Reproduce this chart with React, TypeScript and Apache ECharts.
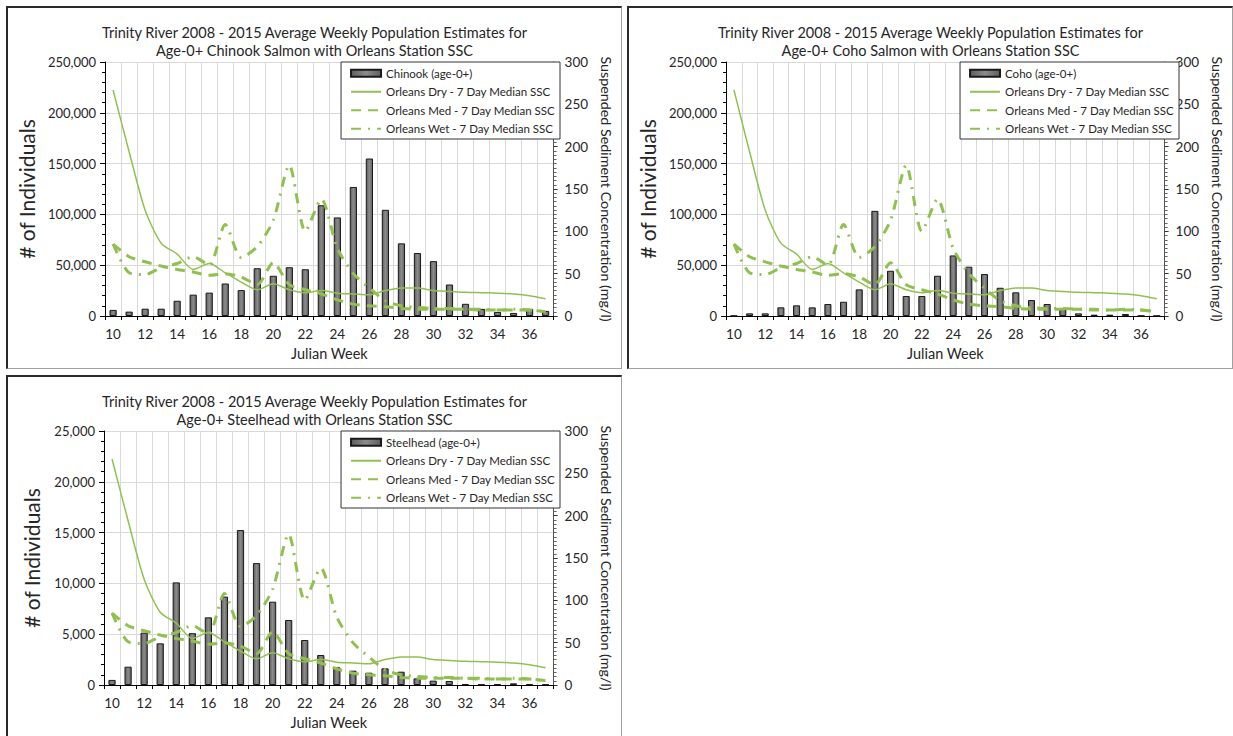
import React, { useEffect, useRef } from "react";
import * as echarts from "echarts";

const FONT = "Lato, 'Open Sans', sans-serif";
const GREEN = "#92c050";

const weeks = [
  "10", "11", "12", "13", "14", "15", "16", "17", "18", "19", "20", "21", "22", "23",
  "24", "25", "26", "27", "28", "29", "30", "31", "32", "33", "34", "35", "36", "37",
];

const chinook = [
  6000, 4300, 7200, 7200, 15000, 21000, 23000, 32000, 25500, 47000, 39600, 48000, 46000, 109000,
  97000, 127000, 155000, 104500, 71500, 62000, 54000, 31000, 12000, 7000, 4000, 3000, 7000, 5000,
];

const coho = [
  300, 2600, 2600, 8500, 10500, 8500, 11800, 14000, 26200, 103500, 44500, 19700, 19700, 39600,
  59600, 48500, 41300, 27800, 23300, 15700, 11800, 6500, 2600, 1300, 1300, 2000, 300, 300,
];

const steelhead = [
  500, 1800, 5150, 4100, 10100, 5100, 6660, 8700, 15250, 12000, 8200, 6400, 4430, 2950,
  1740, 1410, 1210, 1640, 1310, 650, 430, 390, 100, 60, 60, 160, 100, 60,
];

const drySSC = [
  267, 194, 125, 86, 73, 55, 62, 51, 40, 31, 38, 31, 27.5, 30,
  27, 26, 25, 30, 33, 33, 30, 29, 28, 27.5, 27, 26, 24, 20.5,
];

const medSSC = [
  85, 70, 64, 59, 55, 52, 48, 50, 46, 37, 63, 37, 31, 26,
  19, 14, 12, 11, 9, 8, 8, 8, 8, 7, 7, 7, 7, 5,
];

const wetSSC = [
  85, 51, 49, 57, 62, 70, 60, 108, 69, 82, 113, 178, 100, 138,
  80, 50, 33, 18, 12, 10, 9, 9, 8, 8, 7, 8, 7, 5,
];

const fmt = (v: number) => String(v).replace(/\B(?=(\d{3})+(?!\d))/g, ",");

type PanelCfg = {
  title: string;
  barName: string;
  bars: number[];
  leftMax: number;
  leftInterval: number;
  gridLeft: number;
  gridRight: number;
  rightNameGap: number;
};

function makeOption(p: PanelCfg) {
  const txt = "#262626";
  const lineLegend = (name: string) => ({ name, itemStyle: { opacity: 0 } });
  return {
    animation: false,
    textStyle: { fontFamily: FONT },
    title: {
      text: p.title,
      left: "center",
      top: 10,
      textStyle: {
        fontFamily: FONT,
        fontSize: 14.5,
        fontWeight: "normal",
        color: txt,
        lineHeight: 18,
      },
    },
    legend: {
      orient: "vertical",
      right: p.gridRight + 1,
      top: 54,
      backgroundColor: "#ffffff",
      borderColor: "#333333",
      borderWidth: 1,
      padding: [4, 5, 3, 9],
      itemWidth: 30,
      itemHeight: 7,
      itemGap: 4,
      textStyle: { fontFamily: FONT, fontSize: 11.5, color: txt, lineHeight: 14.5 },
      data: [
        { name: p.barName, icon: "rect" },
        lineLegend("Orleans Dry - 7 Day Median SSC"),
        lineLegend("Orleans Med - 7 Day Median SSC"),
        lineLegend("Orleans Wet - 7 Day Median SSC"),
      ],
    },
    grid: { left: p.gridLeft, right: p.gridRight, top: 54, bottom: 52 },
    xAxis: {
      type: "category",
      data: weeks,
      boundaryGap: true,
      name: "Julian Week",
      nameLocation: "middle",
      nameGap: 30,
      nameTextStyle: { fontFamily: FONT, fontSize: 14.5, color: txt },
      axisLine: { lineStyle: { color: "#000", width: 1 } },
      axisTick: { show: true, interval: 0, length: 4, lineStyle: { color: "#000" } },
      axisLabel: { interval: 1, fontFamily: FONT, fontSize: 13.5, color: txt, margin: 11 },
      splitLine: { show: true, interval: 0, lineStyle: { color: "#d9d9d9", width: 1 } },
    },
    yAxis: [
      {
        type: "value",
        position: "left",
        min: 0,
        max: p.leftMax,
        interval: p.leftInterval,
        name: "# of Individuals",
        nameLocation: "middle",
        nameGap: 62,
        nameTextStyle: { fontFamily: FONT, fontSize: 21, color: txt },
        axisLine: { show: true, lineStyle: { color: "#000", width: 1 } },
        axisTick: { show: true, length: 5, lineStyle: { color: "#000" } },
        minorTick: { show: true, splitNumber: 5, length: 3, lineStyle: { color: "#000" } },
        axisLabel: {
          fontFamily: FONT,
          fontSize: 13,
          color: txt,
          margin: 9,
          formatter: (v: number) => fmt(v),
        },
        splitLine: { show: true, lineStyle: { color: "#d9d9d9", width: 1 } },
      },
      {
        type: "value",
        position: "right",
        min: 0,
        max: 300,
        interval: 50,
        name: "Suspended Sediment Concentration (mg/l)",
        nameLocation: "middle",
        nameGap: p.rightNameGap,
        nameRotate: -90,
        nameTextStyle: { fontFamily: FONT, fontSize: 14.3, color: txt },
        axisLine: { show: true, lineStyle: { color: "#555", width: 1 } },
        axisTick: { show: true, length: 4, lineStyle: { color: "#333" } },
        minorTick: { show: true, splitNumber: 10, length: 3, lineStyle: { color: "#666" } },
        axisLabel: { fontFamily: FONT, fontSize: 13.5, color: txt, margin: 11 },
        splitLine: { show: false },
      },
    ],
    series: [
      {
        name: p.barName,
        type: "bar",
        data: p.bars,
        yAxisIndex: 0,
        barWidth: "45%",
        itemStyle: {
          color: new echarts.graphic.LinearGradient(0, 0, 1, 0, [
            { offset: 0, color: "#5e5e5e" },
            { offset: 0.5, color: "#8c8c8c" },
            { offset: 1, color: "#5e5e5e" },
          ]),
          borderColor: "#1a1a1a",
          borderWidth: 1,
        },
      },
      {
        name: "Orleans Dry - 7 Day Median SSC",
        type: "line",
        yAxisIndex: 1,
        data: drySSC,
        symbol: "none",
        smooth: 0.25,
        lineStyle: { color: GREEN, width: 1.5, type: "solid" },
        itemStyle: { color: GREEN },
      },
      {
        name: "Orleans Med - 7 Day Median SSC",
        type: "line",
        yAxisIndex: 1,
        data: medSSC,
        symbol: "none",
        smooth: 0.25,
        lineStyle: { color: GREEN, width: 3, type: [10, 7] },
        itemStyle: { color: GREEN },
      },
      {
        name: "Orleans Wet - 7 Day Median SSC",
        type: "line",
        yAxisIndex: 1,
        data: wetSSC,
        symbol: "none",
        smooth: 0.25,
        lineStyle: { color: GREEN, width: 3, type: [10, 7, 2, 7] },
        itemStyle: { color: GREEN },
      },
    ],
  };
}

function Panel(props: { cfg: PanelCfg; left: number; top: number; width: number; height: number }) {
  const ref = useRef<HTMLDivElement>(null);
  useEffect(() => {
    if (!ref.current) return;
    const chart = echarts.init(ref.current, undefined, { renderer: "svg" });
    chart.setOption(makeOption(props.cfg));
    return () => chart.dispose();
  }, []);
  return (
    <div
      style={{
        position: "absolute",
        left: props.left,
        top: props.top,
        width: props.width,
        height: props.height,
        boxSizing: "border-box",
        borderTop: "2px solid #2a2a2a",
        borderLeft: "2px solid #2a2a2a",
        borderRight: "1px solid #a0a0a0",
        borderBottom: "1px solid #a0a0a0",
        background: "#fff",
      }}
    >
      <div ref={ref} style={{ width: "100%", height: "100%" }} />
    </div>
  );
}

const TITLE_PREFIX = "Trinity River 2008 - 2015 Average Weekly Population Estimates for\n";

const chinookCfg: PanelCfg = {
  title: TITLE_PREFIX + "Age-0+ Chinook Salmon with Orleans Station SSC",
  barName: "Chinook (age-0+)",
  bars: chinook,
  leftMax: 250000,
  leftInterval: 50000,
  gridLeft: 96,
  gridRight: 60,
  rightNameGap: 33,
};

const cohoCfg: PanelCfg = {
  title: TITLE_PREFIX + "Age-0+ Coho Salmon with Orleans Station SSC",
  barName: "Coho (age-0+)",
  bars: coho,
  leftMax: 250000,
  leftInterval: 50000,
  gridLeft: 97,
  gridRight: 52,
  rightNameGap: 40,
};

const steelheadCfg: PanelCfg = {
  title: TITLE_PREFIX + "Age-0+ Steelhead with Orleans Station SSC",
  barName: "Steelhead (age-0+)",
  bars: steelhead,
  leftMax: 25000,
  leftInterval: 5000,
  gridLeft: 96,
  gridRight: 60,
  rightNameGap: 33,
};

export default function App() {
  return (
    <div
      style={{
        position: "absolute",
        left: 0,
        top: 0,
        width: 1233,
        height: 736,
        overflow: "hidden",
        background: "#fff",
      }}
    >
      <Panel cfg={chinookCfg} left={6} top={6} width={616} height={363} />
      <Panel cfg={cohoCfg} left={627} top={6} width={606} height={363} />
      <Panel cfg={steelheadCfg} left={6} top={375} width={616} height={363} />
    </div>
  );
}
